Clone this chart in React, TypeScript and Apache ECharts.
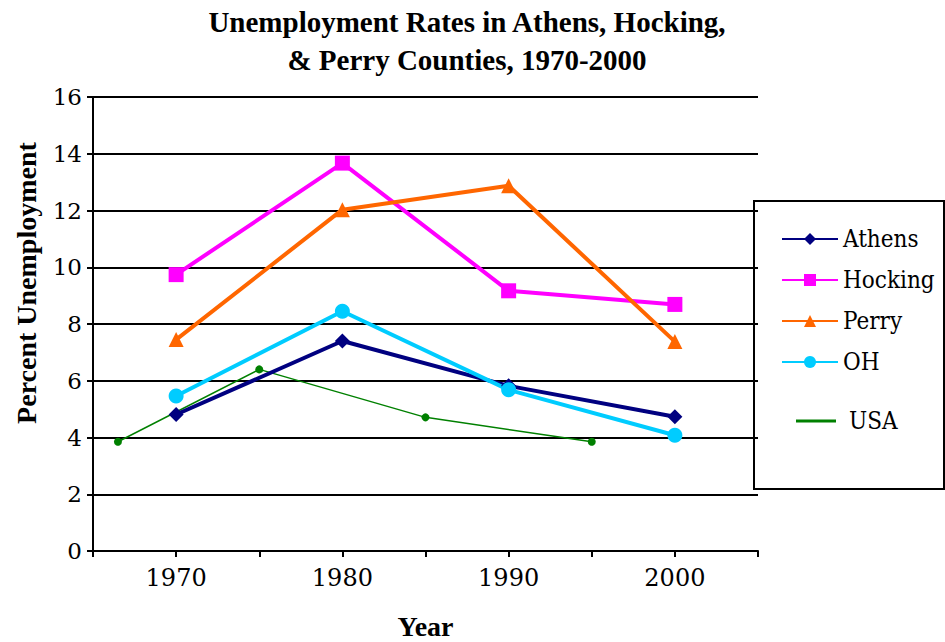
import React, { useEffect, useRef } from "react";
import * as echarts from "echarts";

const years = [1970, 1980, 1990, 2000];
const athens = [4.81, 7.4, 5.82, 4.73];
const hocking = [9.74, 13.67, 9.17, 8.69];
const perry = [7.45, 12.03, 12.87, 7.38];
const ohio = [5.46, 8.45, 5.68, 4.08];
const usaYears = [1966.5, 1975, 1985, 1995];
const usa = [3.85, 6.4, 4.71, 3.85];

const SERIF_BOLD = "Times New Roman";
const SERIF = "DejaVu Serif";
const SERIF_NARROW = "DejaVu Serif Condensed";

const pairs = (xs: number[], ys: number[]) => xs.map((x, i) => [x, ys[i]]);

export default function App() {
  const ref = useRef<HTMLDivElement>(null);

  useEffect(() => {
    if (!ref.current) return;
    const chart = echarts.init(ref.current, null, { renderer: "svg" });

    const mainSeries = (
      name: string,
      color: string,
      symbol: string,
      size: number,
      values: number[]
    ) => ({
      name,
      type: "line",
      data: pairs(years, values),
      symbol,
      symbolSize: size,
      color,
      lineStyle: { color, width: 4 },
      itemStyle: { color },
      z: 3,
    });

    const legendText = {
      fontFamily: SERIF_NARROW,
      fontSize: 24,
      color: "#000",
    };

    chart.setOption({
      animation: false,
      backgroundColor: "#ffffff",
      title: {
        text: "Unemployment Rates in Athens, Hocking,\n& Perry Counties, 1970-2000",
        left: 467,
        top: 3,
        padding: 0,
        textAlign: "center",
        textStyle: {
          fontFamily: SERIF_BOLD,
          fontWeight: "bold",
          fontSize: 29,
          lineHeight: 38,
          color: "#000",
        },
      },
      grid: { left: 93, right: 187, top: 97, bottom: 91, outerBoundsMode: "none" },
      xAxis: {
        type: "value",
        min: 1965,
        max: 2005,
        interval: 5,
        name: "Year",
        nameLocation: "middle",
        nameGap: 61,
        nameTextStyle: {
          fontFamily: SERIF_BOLD,
          fontWeight: "bold",
          fontSize: 28,
          color: "#000",
        },
        axisLine: { show: true, onZero: false, lineStyle: { color: "#000", width: 2 } },
        axisTick: { show: true, length: 6, lineStyle: { color: "#000", width: 2 } },
        splitLine: { show: false },
        axisLabel: {
          fontFamily: SERIF,
          fontSize: 24,
          color: "#000",
          margin: 15,
          formatter: (v: number) => (v % 10 === 0 ? String(v) : ""),
        },
      },
      yAxis: {
        type: "value",
        min: 0,
        max: 16,
        interval: 2,
        axisLine: { show: true, lineStyle: { color: "#000", width: 2 } },
        axisTick: { show: true, length: 6, lineStyle: { color: "#000", width: 2 } },
        splitLine: { show: true, lineStyle: { color: "#000", width: 2 } },
        axisLabel: { fontFamily: SERIF, fontSize: 23, color: "#000", margin: 11 },
      },
      legend: [
        {
          data: ["Athens", "Hocking", "Perry", "OH"],
          orient: "vertical",
          left: 776,
          top: 222,
          itemWidth: 56,
          itemHeight: 15,
          itemGap: 17,
          textStyle: legendText,
        },
        {
          data: [{ name: "USA", icon: "rect" }],
          orient: "vertical",
          left: 791,
          top: 404,
          itemWidth: 40,
          itemHeight: 3,
          textStyle: { ...legendText, padding: [0, 0, 0, 8] },
        },
      ],
      graphic: [
        {
          type: "rect",
          shape: { x: 754, y: 201, width: 190, height: 288 },
          style: { fill: "none", stroke: "#000", lineWidth: 2 },
          z: -1,
        },
        {
          // y-axis title, placed independently of the plot's vertical centre
          type: "text",
          x: 26,
          y: 283,
          rotation: Math.PI / 2,
          style: {
            text: "Percent Unemployment",
            fontFamily: SERIF_BOLD,
            fontWeight: "bold",
            fontSize: 28,
            fill: "#000",
            align: "center",
            verticalAlign: "middle",
          },
        },
      ],
      series: [
        mainSeries("Athens", "#000080", "diamond", 15, athens),
        mainSeries("Hocking", "#ff00ff", "rect", 15, hocking),
        mainSeries("Perry", "#ff6600", "triangle", 15, perry),
        mainSeries("OH", "#00ccff", "circle", 15, ohio),
        {
          name: "USA",
          type: "line",
          data: pairs(usaYears, usa),
          symbol: "circle",
          symbolSize: 8,
          color: "#008000",
          lineStyle: { color: "#008000", width: 1.5 },
          itemStyle: { color: "#008000" },
          z: 2,
        },
      ],
    });

    return () => chart.dispose();
  }, []);

  return (
    <div
      ref={ref}
      style={{ position: "absolute", left: 0, top: 0, width: 945, height: 642 }}
    />
  );
}
